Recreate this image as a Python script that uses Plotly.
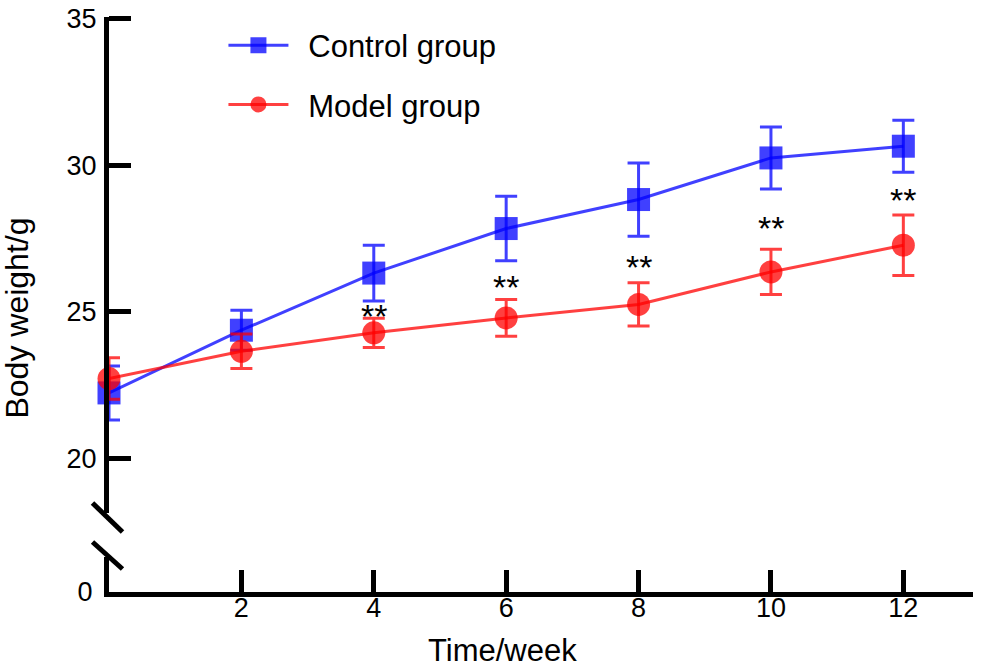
import plotly.graph_objects as go

weeks = [0, 2, 4, 6, 8, 10, 12]
control_mean = [22.23, 24.37, 26.32, 27.84, 28.83, 30.25, 30.65]
control_err = [0.92, 0.68, 0.95, 1.10, 1.25, 1.06, 0.89]
model_mean = [22.72, 23.65, 24.28, 24.79, 25.25, 26.36, 27.27]
model_err = [0.71, 0.59, 0.50, 0.63, 0.74, 0.77, 1.03]
sig_weeks = [4, 6, 8, 10, 12]
sig_pos = [25.02, 26.01, 26.69, 28.02, 28.98]
sig_text = ["**", "**", "**", "**", "**"]
x_ticks = [2, 4, 6, 8, 10, 12]
y_ticks = [20, 25, 30, 35]
y_low_ticks = [0]

FONT = "Liberation Sans, Arial, sans-serif"
BLUE = "rgba(0,0,255,0.75)"
RED = "rgba(255,0,0,0.75)"

W, H = 987, 667
# target pixels of the plot area
SL, SR_EDGE, ST, SB = 108.5, 973, 17, 592
L, T = SL, ST
R = W - SR_EDGE
B = H - SB
pw, ph = W - L - R, H - T - B
xscale = (903.3 - SL) / 12
x0 = 0
x1 = x0 + pw / xscale
up_dom0 = (SB - 513) / ph
low_dom1 = (SB - 557) / ph
yscale = 29.3
y_hi = 35.06
y_lo = y_hi - (ph * (1 - up_dom0)) / yscale


def px_x(p):
    return (p - SL) / pw


def px_y(p):
    return (SB - p) / ph


fig = go.Figure()
fig.add_trace(go.Scatter(
    x=weeks, y=control_mean, name="\u00a0\u2009Control group", mode="lines+markers",
    line=dict(color=BLUE, width=3),
    marker=dict(symbol="square", size=23, color=BLUE, line=dict(width=0)),
    error_y=dict(type="data", array=control_err, color=BLUE, thickness=3, width=11),
    cliponaxis=False, legendgroup="c",
))
fig.add_trace(go.Scatter(
    x=weeks, y=model_mean, name="\u00a0\u2009Model group", mode="lines+markers",
    line=dict(color=RED, width=3),
    marker=dict(symbol="circle", size=23, color=RED, line=dict(width=0)),
    error_y=dict(type="data", array=model_err, color=RED, thickness=3, width=11),
    cliponaxis=False, legendgroup="m",
))
# keeps the lower (broken) axis segment drawn
fig.add_trace(go.Scatter(x=[None], y=[None], xaxis="x", yaxis="y2",
                         showlegend=False, hoverinfo="skip"))

for wk, pos, txt in zip(sig_weeks, sig_pos, sig_text):
    fig.add_annotation(x=wk, y=pos, xref="x", yref="y", text=txt, showarrow=False,
                       font=dict(family=FONT, size=34, color="black"),
                       xanchor="center", yanchor="middle", yshift=-5)

# axis break marks
for (ya, yb) in [(503, 532), (542, 569)]:
    fig.add_shape(type="line", xref="paper", yref="paper",
                  x0=px_x(92), y0=px_y(ya), x1=px_x(122), y1=px_y(yb),
                  line=dict(color="black", width=5))

fig.add_annotation(text="Body weight/g", xref="paper", yref="paper",
                   x=px_x(16), y=px_y(318), textangle=-90, showarrow=False,
                   font=dict(family=FONT, size=32, color="black"),
                   xanchor="center", yanchor="middle", borderpad=0)
fig.add_annotation(text="Time/week", xref="paper", yref="paper",
                   x=px_x(502), y=px_y(650), showarrow=False,
                   font=dict(family=FONT, size=31, color="black"),
                   xanchor="center", yanchor="middle", borderpad=0)

tickfont = dict(family=FONT, size=27, color="black")
fig.update_layout(
    width=W, height=H,
    margin=dict(l=L, r=R, t=T, b=B, pad=0, autoexpand=False),
    paper_bgcolor="white", plot_bgcolor="white",
    font=dict(family=FONT, color="black"),
    showlegend=True,
    legend=dict(x=px_x(223), y=px_y(18.5), xanchor="left", yanchor="top",
                font=dict(family=FONT, size=31, color="black"),
                itemwidth=60, tracegroupgap=16, bgcolor="rgba(0,0,0,0)"),
    xaxis=dict(domain=[0, 1], range=[x0, x1], anchor="y2", automargin=False,
               tickvals=x_ticks, ticks="inside", ticklen=22, tickwidth=5,
               tickcolor="black", showline=True, linewidth=5, linecolor="black",
               showgrid=False, zeroline=False, ticklabelstandoff=-12,
               tickfont=tickfont),
    yaxis=dict(domain=[up_dom0, 1], range=[y_lo, y_hi], anchor="x", automargin=False,
               tickvals=y_ticks, ticks="inside", ticklen=22, tickwidth=5,
               tickcolor="black", showline=True, linewidth=5, linecolor="black",
               showgrid=False, zeroline=False, ticklabelstandoff=2,
               tickfont=tickfont),
    yaxis2=dict(domain=[0, low_dom1], range=[0, 1], anchor="x", automargin=False,
                tickvals=y_low_ticks, ticktext=["0"], ticks="",
                showline=True, linewidth=5, linecolor="black",
                showgrid=False, zeroline=False, ticklabelstandoff=6,
                tickfont=tickfont),
)

fig.write_html("out.html", config={"displayModeBar": False},
               post_script="document.body.style.margin='0px';")
